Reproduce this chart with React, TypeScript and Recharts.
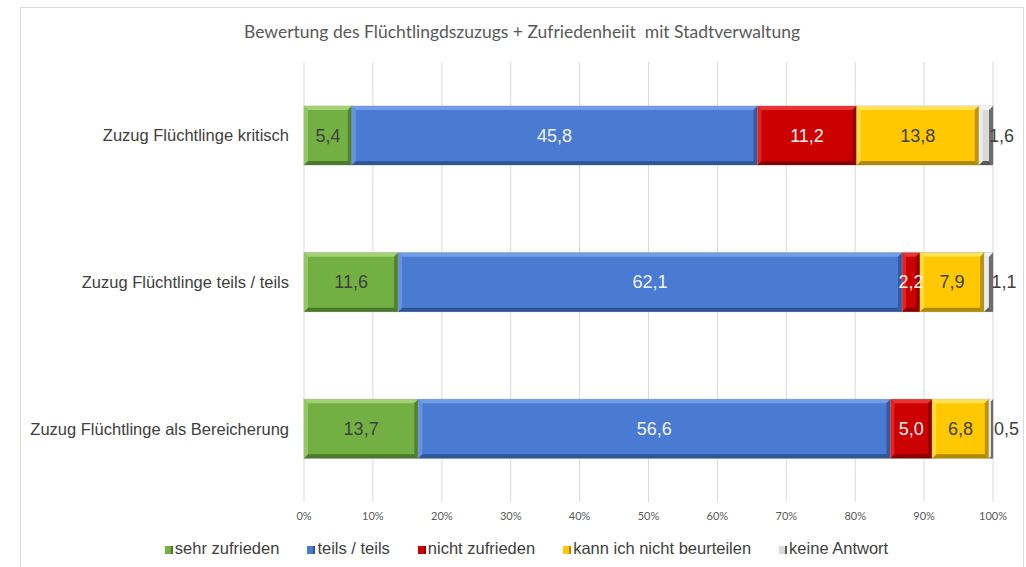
import React from 'react';
import {
  BarChart, Bar, XAxis, YAxis, CartesianGrid, Legend, LabelList,
} from 'recharts';

const categories = [
  'Zuzug Flüchtlinge kritisch',
  'Zuzug Flüchtlinge teils / teils',
  'Zuzug Flüchtlinge als Bereicherung',
];

const sehrZufrieden = [5.4, 11.6, 13.7];
const teilsTeils = [45.8, 62.1, 56.6];
const nichtZufrieden = [11.2, 2.2, 5.0];
const kannNicht = [13.8, 7.9, 6.8];
const keineAntwort = [1.6, 1.1, 0.5];

const xTicks = [0, 0.1, 0.2, 0.3, 0.4, 0.5, 0.6, 0.7, 0.8, 0.9, 1];

const title = 'Bewertung des Flüchtlingdszuzugs + Zufriedenheiit  mit Stadtverwaltung';

const series = [
  { key: 's1', name: 'sehr zufrieden', values: sehrZufrieden, base: '#72b043', light: '#a2d273', dark: '#4b7a2c', text: '#404040', outside: false },
  { key: 's2', name: 'teils / teils', values: teilsTeils, base: '#4a7bd3', light: '#739ce6', dark: '#2f5597', text: '#f2f2f2', outside: false },
  { key: 's3', name: 'nicht zufrieden', values: nichtZufrieden, base: '#cc0000', light: '#e83434', dark: '#8a0000', text: '#f2f2f2', outside: false },
  { key: 's4', name: 'kann ich nicht beurteilen', values: kannNicht, base: '#ffc800', light: '#ffe15a', dark: '#b08a00', text: '#404040', outside: false },
  { key: 's5', name: 'keine Antwort', values: keineAntwort, base: '#d9d9d9', light: '#f4f4f4', dark: '#5a5a5a', text: '#404040', outside: true },
];

const data = categories.map((name, i) => {
  const row: any = { name };
  series.forEach((s) => { row[s.key] = s.values[i]; });
  return row;
});

const fmt = (v: any) => {
  const n = Array.isArray(v) ? v[1] - v[0] : Number(v);
  return n.toFixed(1).replace('.', ',');
};

const bevel = (s: any) => (props: any) => {
  const { x, y, width: w, height: h } = props;
  if (!w || !h) return null;
  const b = Math.min(4, w / 2, h / 2);
  return (
    <g>
      <rect x={x} y={y} width={w} height={h} fill={s.base} stroke="#9a9a9a" strokeOpacity={0.5} strokeWidth={1} />
      <polygon points={`${x},${y} ${x + w},${y} ${x + w - b},${y + b} ${x + b},${y + b}`} fill={s.light} />
      <polygon points={`${x},${y + h} ${x + w},${y + h} ${x + w - b},${y + h - b} ${x + b},${y + h - b}`} fill={s.dark} />
      <polygon points={`${x},${y} ${x + b},${y + b} ${x + b},${y + h - b} ${x},${y + h}`} fill={s.light} opacity={0.7} />
      <polygon points={`${x + w},${y} ${x + w - b},${y + b} ${x + w - b},${y + h - b} ${x + w},${y + h}`} fill={s.dark} opacity={0.85} />
    </g>
  );
};

const valueLabel = (s: any) => (props: any) => {
  const { x, y, width, height, value } = props;
  const cx = s.outside ? x + width / 2 + 3 : x + width / 2;
  return (
    <text
      x={cx}
      y={y + height / 2}
      textAnchor={s.outside ? 'start' : 'middle'}
      dominantBaseline="central"
      fill={s.text}
      fontSize={18}
      fontFamily="Liberation Sans"
    >
      {fmt(value)}
    </text>
  );
};

const LegendContent = () => (
  <div style={{
    height: 30, boxSizing: 'border-box', paddingTop: 12, paddingLeft: 60,
    display: 'flex', justifyContent: 'center', alignItems: 'center',
    fontFamily: 'Liberation Sans', fontSize: 16.5, color: '#404040',
  }}>
    {series.map((s) => (
      <div key={s.key} style={{ display: 'flex', alignItems: 'center', margin: '0 14px', whiteSpace: 'nowrap' }}>
        <span style={{
          display: 'inline-block', width: 8, height: 8, marginRight: 2, marginTop: 3,
          background: s.base, borderRight: `2px solid ${s.dark}`, boxSizing: 'border-box',
        }} />
        <span>{s.name}</span>
      </div>
    ))}
  </div>
);

export default function App() {
  return (
    <div style={{ position: 'fixed', left: 0, top: 0, width: 1026, height: 567, overflow: 'hidden', background: '#fff' }}>
      <div style={{
        position: 'absolute', left: 20, top: 7, width: 1002, height: 580,
        border: '1px solid #d9d9d9',
      }} />
      <div style={{
        position: 'absolute', left: 20, width: 1004, top: 21, textAlign: 'center',
        fontFamily: 'Lato', fontSize: 17.5, color: '#595959', whiteSpace: 'pre',
      }}>
        {title}
      </div>
      <div style={{ position: 'absolute', left: 0, top: 0 }}>
        <BarChart
          width={1026}
          height={567}
          data={data}
          layout="vertical"
          stackOffset="expand"
          barCategoryGap="30%"
          margin={{ top: 62, right: 33, left: 0, bottom: 10 }}
        >
          <CartesianGrid horizontal={false} stroke="#d9d9d9" />
          <XAxis
            type="number"
            domain={[0, 1]}
            ticks={xTicks}
            tickFormatter={(v) => `${Math.round(v * 100)}%`}
            axisLine={false}
            tickLine={false}
            tickSize={0}
            tickMargin={10}
            height={25}
            tick={{ fontSize: 11, fill: '#595959', fontFamily: 'Lato' }}
            interval={0}
          />
          <YAxis
            type="category"
            dataKey="name"
            width={304}
            axisLine={false}
            tickLine={false}
            tickSize={0}
            tickMargin={15}
            tick={{ fontSize: 16.5, fill: '#404040', fontFamily: 'Liberation Sans' }}
          />
          <Legend verticalAlign="bottom" content={<LegendContent />} />
          {series.map((s) => (
            <Bar
              key={s.key}
              dataKey={s.key}
              name={s.name}
              stackId="a"
              fill={s.base}
              shape={bevel(s)}
              isAnimationActive={false}
            >
              <LabelList dataKey={s.key} content={valueLabel(s)} />
            </Bar>
          ))}
        </BarChart>
      </div>
    </div>
  );
}
